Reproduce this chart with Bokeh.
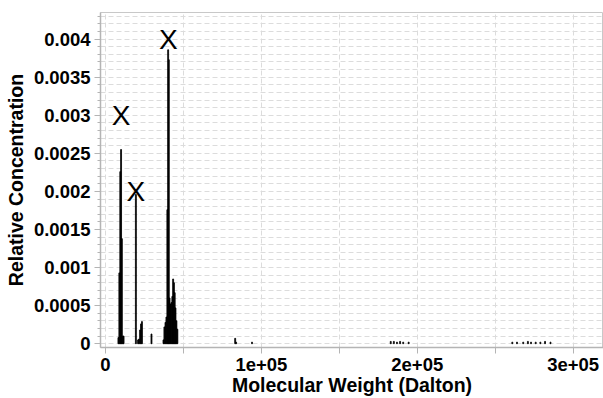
from bokeh.plotting import figure
from bokeh.models import Range1d, FixedTicker, ColumnDataSource
from bokeh.core.properties import value
from bokeh.embed import file_html
from bokeh.resources import INLINE

# Molecular weight (Dalton) of each bin and its relative concentration
mw = [8300, 8900, 9500, 10000, 10500, 11100, 11600,
      19500, 20900, 21500, 22200, 22800, 23400, 29500,
      37200, 37800, 38500, 39100, 39700, 40200, 40600, 41100, 41700,
      42300, 42900, 43400, 43900, 44400, 44900, 45500, 46100,
      83200, 83800, 94000,
      183000, 185000, 187000, 189000, 191000, 194500,
      261000, 264000, 268000, 271000, 273000, 276000, 279000, 282000, 285500]
conc = [0.00008, 0.00093, 0.00226, 0.00255, 0.00138, 0.0001, 0.0001,
        0.00196, 0.00005, 0.00006, 0.00018, 0.00026, 0.00029, 0.000127,
        0.00005, 0.00022, 0.00028, 0.00035, 0.00176, 0.00386, 0.00373, 0.0006, 0.00052,
        0.00054, 0.00062, 0.00085, 0.0008, 0.00067, 0.00047, 0.0003, 0.00019,
        0.00007, 0.00002, 0.00002,
        0.00003, 0.00003, 0.00002, 0.00003, 0.00002, 0.00002,
        0.00002, 0.00002, 0.00002, 0.00003, 0.00002, 0.00002, 0.00002, 0.00003, 0.00002]

# peak markers
mark_mw = [10000, 19500, 40400]
mark_conc = [0.003, 0.002, 0.004]
mark_text = ["X", "X", "X"]

x_ticks = [0, 100000, 200000, 300000]
x_tick_labels = ["0", "1e+05", "2e+05", "3e+05"]
x_minor = [50000, 150000, 250000]
y_ticks = [0, 0.0005, 0.001, 0.0015, 0.002, 0.0025, 0.003, 0.0035, 0.004]
y_tick_labels = ["0", "0.0005", "0.001", "0.0015", "0.002", "0.0025", "0.003", "0.0035", "0.004"]
y_minor = [round(i * 0.0001, 5) for i in range(0, 44) if i % 5 != 0]

p = figure(width=603, height=398, output_backend="svg", toolbar_location=None,
           x_range=Range1d(-3200, 319500), y_range=Range1d(-0.00005, 0.00435),
           min_border_left=100, min_border_top=12, min_border_right=0, min_border_bottom=49)
p.outline_line_color = "#c8c8c8"
p.background_fill_color = "white"

src = ColumnDataSource(dict(mw=mw, conc=conc))
p.vbar(x="mw", top="conc", bottom=0, width=600, source=src,
       fill_color="black", line_color="black", line_width=0.8)

msrc = ColumnDataSource(dict(x=mark_mw, y=mark_conc, t=mark_text))
p.text(x="x", y="y", text="t", source=msrc, text_align="center", text_baseline="middle",
       text_font=value("Liberation Sans"), text_font_size="28px", text_color="black")

font = "Liberation Sans"
p.xaxis.ticker = FixedTicker(ticks=x_ticks, minor_ticks=x_minor)
p.xaxis.major_label_overrides = dict(zip(x_ticks, x_tick_labels))
p.yaxis.ticker = FixedTicker(ticks=y_ticks, minor_ticks=y_minor)
p.yaxis.major_label_overrides = dict(zip(y_ticks, y_tick_labels))

p.xaxis.axis_label = "Molecular Weight (Dalton)"
p.yaxis.axis_label = "Relative Concentration"
for ax in (p.xaxis, p.yaxis):
    ax.axis_label_text_font = font
    ax.axis_label_text_font_style = "bold"
    ax.axis_label_text_font_size = "19.5px"
    ax.axis_label_text_color = "black"
    ax.major_label_text_font = font
    ax.major_label_text_font_style = "bold"
    ax.major_label_text_font_size = "18.5px"
    ax.major_label_text_color = "black"
    ax.axis_line_color = "#b4b4b4"
    ax.axis_line_width = 1.5
    ax.major_tick_line_color = "#b4b4b4"
    ax.minor_tick_line_color = "#b4b4b4"
    ax.major_tick_in = 0
    ax.minor_tick_in = 0
    ax.major_tick_out = 6
p.xaxis.minor_tick_out = 6
p.yaxis.minor_tick_out = 3
p.xaxis.major_label_standoff = 4
p.yaxis.major_label_standoff = 4
p.xaxis.axis_label_standoff = 0
p.yaxis.axis_label_standoff = 4

for g in (p.xgrid, p.ygrid):
    g.grid_line_color = "#dcdcdc"
    g.grid_line_dash = "5 3"
    g.minor_grid_line_color = "#dcdcdc"
    g.minor_grid_line_dash = "5 3"
p.xgrid.ticker = FixedTicker(ticks=x_ticks + x_minor)
p.xgrid.minor_grid_line_color = None
p.ygrid.ticker = FixedTicker(ticks=y_ticks, minor_ticks=y_minor)

open("out.html", "w").write(file_html(p, INLINE))
